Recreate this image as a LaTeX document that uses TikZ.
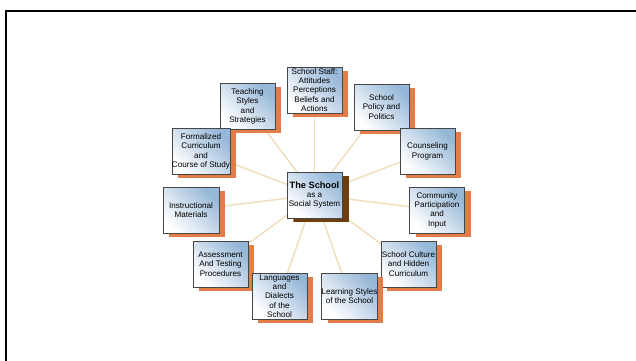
\documentclass[tikz,border=0pt]{standalone}
\usepackage{fontspec}
\setmainfont{Liberation Sans}
\usetikzlibrary{shadows,backgrounds}
\definecolor{boxblue}{RGB}{150,184,216}
\definecolor{boxmid}{RGB}{205,220,236}
\definecolor{shadeorange}{RGB}{226,125,72}
\definecolor{shadebrown}{RGB}{110,62,14}
\definecolor{linetan}{RGB}{240,222,190}
\definecolor{boxedge}{RGB}{70,70,70}
\tikzset{
  topic/.style={draw=boxedge, line width=0.8pt, minimum width=55pt, minimum height=46pt,
    inner sep=0pt, align=center, font=\fontsize{8.1}{9.3}\selectfont,
    top color=boxblue, bottom color=white, middle color=boxmid, shading angle=-45,
    drop shadow={shadow xshift=6pt, shadow yshift=-3.5pt, fill=shadeorange, draw=none, opacity=1}},
  hub/.style={topic, drop shadow={shadow xshift=7pt, shadow yshift=-3.5pt, fill=shadebrown, draw=none, opacity=1}},
  spoke/.style={draw=linetan, line width=1.5pt},
  frame/.style={draw=black, line width=2pt}
}
\begin{document}
\begin{tikzpicture}[x=1pt,y=-1pt]
\useasboundingbox (0,0) rectangle (636,360);
\draw[frame] (6,361) -- (6,11) -- (637,11);
\node[hub] (c) at (314.5,195) {{\fontsize{9.2}{10}\selectfont\bfseries The School}\\as a\\Social System};
\node[topic] (teach) at (247.5,106.5) {Teaching\\Styles\\and\\Strategies};
\node[topic] (formal) at (201,151.5) {Formalized\\Curriculum\\and\\Course of Study};
\node[topic] (staff) at (314.5,90) {School Staff:\\Attitudes\\Perceptions\\Beliefs and\\Actions};
\node[topic] (policy) at (381.5,107) {School\\Policy and\\Politics};
\node[topic] (couns) at (427.5,151.5) {Counseling\\Program};
\node[topic, minimum width=56pt] (instr) at (191,210) {Instructional\\Materials};
\node[topic] (assess) at (220.5,264) {Assessment\\And Testing\\Procedures};
\node[topic] (lang) at (279.5,296) {Languages\\and\\Dialects\\of the\\School};
\node[topic] (comm) at (437,210) {Community\\Participation\\and\\Input};
\node[topic] (culture) at (408.5,264) {School Culture\\and Hidden\\Curriculum};
\node[topic] (learn) at (349.5,296) {Learning Styles\\of the School};
\begin{scope}[on background layer]
\foreach \n in {teach,formal,staff,policy,couns,instr,assess,lang,comm,culture,learn}
  \draw[spoke] (c.center) -- (\n.center);
\end{scope}
\end{tikzpicture}
\end{document}
